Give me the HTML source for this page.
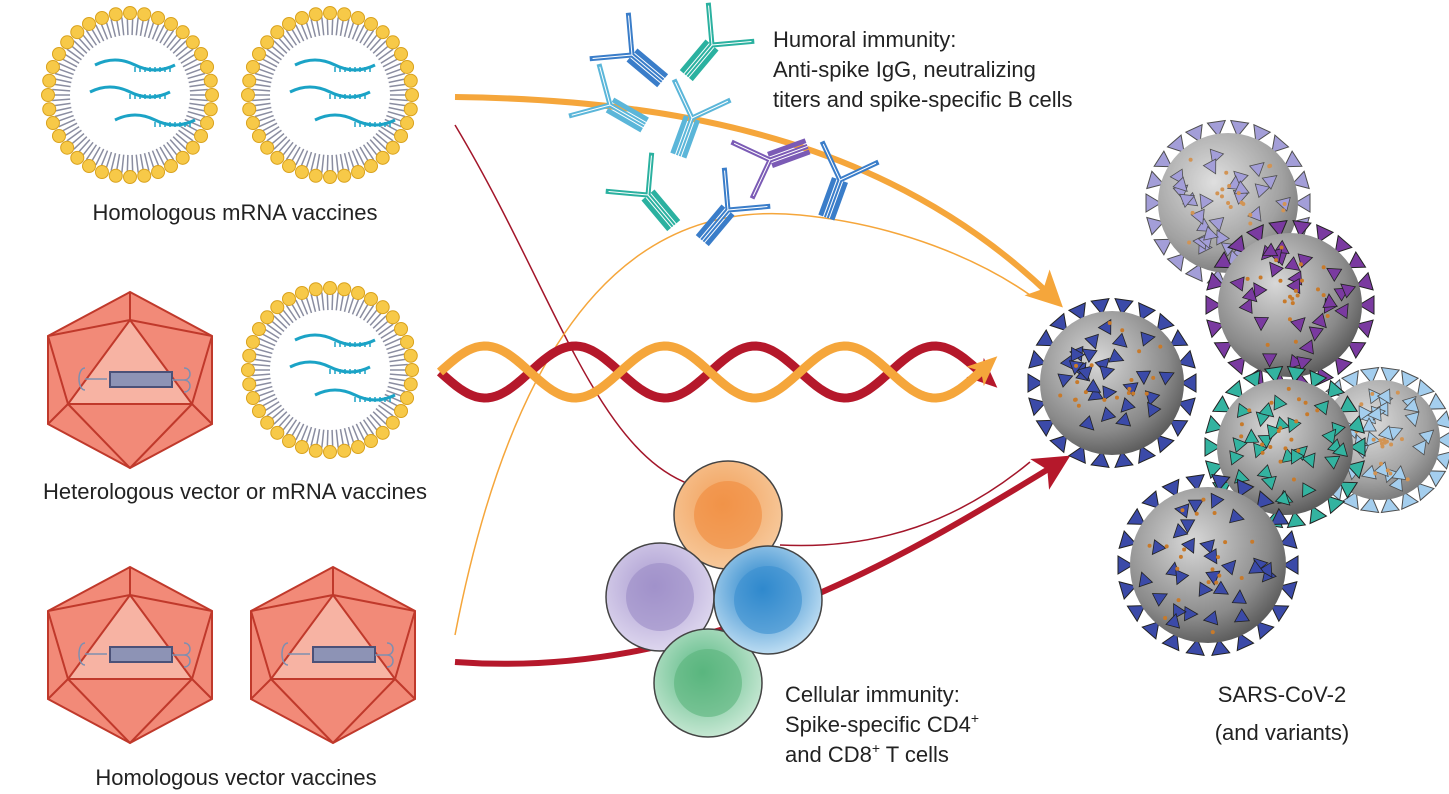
<!DOCTYPE html>
<html><head><meta charset="utf-8"><style>
html,body{margin:0;padding:0;background:#fff;}
svg{display:block;font-family:"Liberation Sans",Arial,sans-serif;}
text{font-size:22px;fill:#222;}
</style></head><body>
<svg id="s" width="1449" height="794" viewBox="0 0 1449 794" xmlns="http://www.w3.org/2000/svg">
<defs>
<radialGradient id="vg" cx="40%" cy="35%" r="70%"><stop offset="0" stop-color="#d8d8d8"/><stop offset="0.7" stop-color="#8a8a8a"/><stop offset="1" stop-color="#555"/></radialGradient>
<radialGradient id="co" cx="45%" cy="40%" r="60%"><stop offset="0" stop-color="#f3a05a"/><stop offset="1" stop-color="#f6c89a"/></radialGradient>
<radialGradient id="cp" cx="45%" cy="40%" r="60%"><stop offset="0" stop-color="#a99ad0"/><stop offset="1" stop-color="#ddd6ee"/></radialGradient>
<radialGradient id="cb" cx="45%" cy="40%" r="60%"><stop offset="0" stop-color="#1f7fc8"/><stop offset="1" stop-color="#bcdcf2"/></radialGradient>
<radialGradient id="cg" cx="45%" cy="40%" r="60%"><stop offset="0" stop-color="#58b883"/><stop offset="1" stop-color="#c5e7d2"/></radialGradient>
<marker id="ao" markerWidth="6" markerHeight="6" refX="3" refY="3" orient="auto" markerUnits="strokeWidth"><path d="M0,0 L6,3 L0,6 L1.5,3z" fill="#f5a63b"/></marker>
<marker id="ar" markerWidth="6" markerHeight="6" refX="3" refY="3" orient="auto" markerUnits="strokeWidth"><path d="M0,0 L6,3 L0,6 L1.5,3z" fill="#b5182b"/></marker>
<marker id="ao2" markerWidth="30" markerHeight="30" refX="12" refY="15" orient="auto" markerUnits="userSpaceOnUse"><path d="M0,2 L30,15 L0,28 L8,15z" fill="#f5a63b"/></marker>
<marker id="ar2" markerWidth="30" markerHeight="30" refX="12" refY="15" orient="auto" markerUnits="userSpaceOnUse"><path d="M0,2 L30,15 L0,28 L8,15z" fill="#b5182b"/></marker>
</defs>
<path d="M455,97 C700,100 900,150 1050,295" fill="none" stroke="#f5a63b" stroke-width="6" marker-end="url(#ao)"/>
<path d="M455,125 C560,300 600,470 710,490" fill="none" stroke="#a3162a" stroke-width="1.5"/>
<path d="M455,635 C520,300 650,200 800,215 C900,225 980,260 1030,295" fill="none" stroke="#f5a63b" stroke-width="1.5"/>
<path d="M780,545 C880,550 960,520 1030,462" fill="none" stroke="#a3162a" stroke-width="1.5"/>
<path d="M455,662 C700,680 900,560 1055,465" fill="none" stroke="#b5182b" stroke-width="6" marker-end="url(#ar)"/>
<g id="helix"></g>
<g id="fg"></g>
<text x="235" y="220" text-anchor="middle">Homologous mRNA vaccines</text>
<text x="235" y="499" text-anchor="middle">Heterologous vector or mRNA vaccines</text>
<text x="236" y="785" text-anchor="middle">Homologous vector vaccines</text>
<text x="773" y="47">Humoral immunity:</text>
<text x="773" y="77">Anti-spike IgG, neutralizing</text>
<text x="773" y="107">titers and spike-specific B cells</text>
<text x="785" y="702">Cellular immunity:</text>
<text x="785" y="732">Spike-specific CD4<tspan dy="-9" font-size="14">+</tspan></text>
<text x="785" y="762">and CD8<tspan dy="-9" font-size="14">+</tspan><tspan dy="9"> T cells</tspan></text>
<text x="1282" y="702" text-anchor="middle">SARS-CoV-2</text>
<text x="1282" y="740" text-anchor="middle">(and variants)</text>
</svg>
<script>
const NS="http://www.w3.org/2000/svg";
const fg=document.getElementById('fg');
let seed=7;function rnd(){seed=(seed*16807)%2147483647;return seed/2147483647;}
function el(t,a,p){const e=document.createElementNS(NS,t);for(const k in a)e.setAttribute(k,a[k]);(p||fg).appendChild(e);return e;}
function lipo(cx,cy){
 el('circle',{cx,cy,r:80,fill:'#fff'});
 for(let i=0;i<90;i++){const a=i/90*2*Math.PI;
  el('line',{x1:cx+60*Math.cos(a),y1:cy+60*Math.sin(a),x2:cx+78*Math.cos(a),y2:cy+78*Math.sin(a),stroke:'#8a8da0','stroke-width':1.5});}
 for(let i=0;i<36;i++){const a=i/36*2*Math.PI;
  el('circle',{cx:cx+82*Math.cos(a),cy:cy+82*Math.sin(a),r:6.5,fill:'#f7c948',stroke:'#d9a21e','stroke-width':1});}
 const rn=[[-35,-30],[-40,-3],[-15,25]];
 rn.forEach(([dx,dy])=>{let x=cx+dx,y=cy+dy;
  el('path',{d:`M${x},${y} q20,-10 40,0 t40,0`,fill:'none',stroke:'#1ba3c6','stroke-width':3});
  for(let j=0;j<8;j++)el('line',{x1:x+40+j*5,y1:y+2,x2:x+40+j*5,y2:y+7,stroke:'#1ba3c6','stroke-width':1.5});});
}
function ico(cx,cy){
 const w=82,h=88;
 const P=[[cx,cy-h],[cx+w,cy-h/2],[cx+w,cy+h/2],[cx,cy+h],[cx-w,cy+h/2],[cx-w,cy-h/2]];
 el('polygon',{points:P.map(p=>p.join(',')).join(' '),fill:'#f28a78',stroke:'#c0392b','stroke-width':2});
 const T=[[cx,cy-h+28],[cx+w-20,cy+h/2-20],[cx-w+20,cy+h/2-20]];
 el('polygon',{points:T.map(p=>p.join(',')).join(' '),fill:'#f7b3a3',stroke:'#c0392b','stroke-width':2});
 const L=[[P[0],T[0]],[P[1],T[0]],[P[5],T[0]],[P[1],T[1]],[P[2],T[1]],[P[3],T[1]],[P[3],T[2]],[P[4],T[2]],[P[5],T[2]]];
 L.forEach(([a,b])=>el('line',{x1:a[0],y1:a[1],x2:b[0],y2:b[1],stroke:'#c0392b','stroke-width':2}));
 el('rect',{x:cx-20,y:cy-8,width:62,height:15,fill:'#8d93b5',stroke:'#4b5178','stroke-width':2});
 el('path',{d:`M${cx-45},${cy-12} c-8,0 -8,22 0,22 M${cx-45},${cy-1} h22`,fill:'none',stroke:'#7e8fb0','stroke-width':1.5});
 el('path',{d:`M${cx+42},${cy} h12 c8,0 8,-12 0,-12 M${cx+54},${cy} c8,0 8,12 0,12`,fill:'none',stroke:'#7e8fb0','stroke-width':1.5});
}
lipo(130,95);lipo(330,95);lipo(330,370);
ico(130,380);ico(130,655);ico(333,655);
const hx=document.getElementById('helix');
function wave(ph){let d='';for(let x=440;x<=985;x+=4){const y=372+26*Math.sin((x-440)/90*Math.PI+ph);d+=(x==440?'M':'L')+x+','+y;}return d;}
el('path',{d:wave(0),fill:'none',stroke:'#b5182b','stroke-width':9,'marker-end':'url(#ar2)'},hx);
el('path',{d:wave(Math.PI),fill:'none',stroke:'#f5a63b','stroke-width':9,'marker-end':'url(#ao2)'},hx);
function ab(x,y,rot,c){const g=el('g',{transform:`translate(${x},${y}) rotate(${rot})`});
 el('path',{d:'M0,0 v40 M0,0 l-28,-28 M0,0 l28,-28 M-8,-8 l-22,-22 M8,-8 l22,-22 M-6,0 v40 M6,0 v40',stroke:c,'stroke-width':5,fill:'none'},g);
 el('path',{d:'M0,0 v40 M0,0 l-28,-28 M0,0 l28,-28',stroke:'#fff','stroke-width':1,fill:'none'},g);}
[[632,55,-50,'#3a7dc9'],[712,45,40,'#2bb1a0'],[610,105,-60,'#5bb6d9'],[692,118,20,'#5bb6d9'],[770,160,-110,'#7b5bb5'],[840,180,20,'#3a7dc9'],[648,195,-40,'#2bb1a0'],[728,210,40,'#3a7dc9']].forEach(a=>ab(...a));
[[728,515,'url(#co)','#f08a3c'],[660,597,'url(#cp)','#9b8cc6'],[708,683,'url(#cg)','#5ab47c'],[768,600,'url(#cb)','#3a8fd0']].forEach(([x,y,f,s])=>{
 el('circle',{cx:x,cy:y,r:54,fill:f,stroke:'#444','stroke-width':1.5});
 el('circle',{cx:x,cy:y,r:34,fill:s,opacity:0.6});});
function virus(cx,cy,r,c,op){const g=el('g',{opacity:op});
 for(let i=0;i<22;i++){const a=i/22*2*Math.PI;const x=cx+(r+6)*Math.cos(a),y=cy+(r+6)*Math.sin(a);
  el('path',{d:`M${x-9},${y-6} L${x+9},${y-6} L${x},${y+9}z`,fill:c,stroke:'#222','stroke-width':1,transform:`rotate(${a*57.3+90} ${x} ${y})`},g);}
 el('circle',{cx,cy,r,fill:'url(#vg)'},g);
 for(let i=0;i<28;i++){const a=rnd()*6.28,d=Math.sqrt(rnd())*(r-12);const x=cx+d*Math.cos(a),y=cy+d*Math.sin(a);
  el('path',{d:`M${x-7},${y-5} L${x+7},${y-5} L${x},${y+8}z`,fill:c,stroke:'#222','stroke-width':0.8,transform:`rotate(${rnd()*360} ${x} ${y})`},g);}
 for(let i=0;i<20;i++){const a=rnd()*6.28,d=rnd()*(r-8);el('circle',{cx:cx+d*Math.cos(a),cy:cy+d*Math.sin(a),r:2,fill:'#c87a2a'},g);}
}
virus(1228,203,70,'#8d86cf',0.8);
virus(1380,440,60,'#8ec3ea',0.8);
virus(1290,305,72,'#7a3aa0',1);
virus(1285,447,68,'#33b3a0',1);
virus(1112,383,72,'#3b4aa8',1);
virus(1208,565,78,'#3b4aa8',1);
</script>
</body></html>
